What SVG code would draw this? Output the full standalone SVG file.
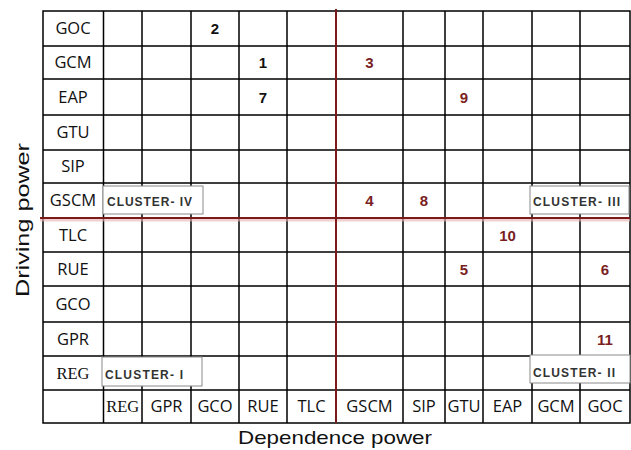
<svg xmlns="http://www.w3.org/2000/svg" width="631" height="450" viewBox="0 0 631 450">
<style>
.g{stroke:#000;stroke-width:1.5;fill:none}
.red{stroke:#7a1a1a;stroke-width:2;fill:none}
.glow{stroke:#e8b0b0;stroke-width:4;fill:none}
.lbl{font-family:"Open Sans","Liberation Sans",sans-serif;font-size:16.5px;fill:#111;text-anchor:middle}
.ser{font-family:"Liberation Serif",serif;font-size:16.5px;fill:#111;text-anchor:middle}
.nb{font-family:"Liberation Sans",Arial,sans-serif;font-size:15px;font-weight:bold;text-anchor:middle;fill:#111}
.nr{font-family:"Liberation Sans",Arial,sans-serif;font-size:15px;font-weight:bold;text-anchor:middle;fill:#7a1f1f}
.cb{fill:#fff;stroke:#8a8a8a;stroke-width:1}
.ct{font-family:"Liberation Sans",Arial,sans-serif;font-size:12px;font-weight:bold;fill:#333}
.ax{font-family:"Liberation Sans",Arial,sans-serif;font-size:19px;fill:#111}
</style>
<rect width="631" height="450" fill="#fff"/>
<g id="grid">
<path class="g" d="M43,11H630V423H43Z"/>
<path class="g" d="M103.5,11V423M142,11V423M191,11V423M239,11V423M287,11V423M403,11V423M445,11V423M483,11V423M532,11V423M580,11V423"/>
<path class="g" d="M43,46H630M43,79H630M43,115H630M43,150H630M43,183H630M43,252H630M43,286H630M43,322H630M43,356H630M43,390H630"/>
</g>
<g id="connectors">
<path class="glow" d="M40,219.5H630" opacity="0.6"/>
<path class="red" d="M40,218H630"/>
<path class="red" d="M336,9V423"/>
</g>
<g id="row-labels">
<text class="lbl" x="73" y="34">GOC</text>
<text class="lbl" x="73" y="68">GCM</text>
<text class="lbl" x="73" y="102.5">EAP</text>
<text class="lbl" x="73" y="138">GTU</text>
<text class="lbl" x="73" y="172">SIP</text>
<text class="lbl" x="73" y="206">GSCM</text>
<text class="lbl" x="73" y="240.5">TLC</text>
<text class="lbl" x="73" y="274.5">RUE</text>
<text class="lbl" x="73" y="309.5">GCO</text>
<text class="lbl" x="73" y="344.5">GPR</text>
<text class="ser" x="73" y="378.5">REG</text>
</g>
<g id="col-labels">
<text class="ser" x="122.75" y="412">REG</text>
<text class="lbl" x="166.5" y="412">GPR</text>
<text class="lbl" x="215" y="412">GCO</text>
<text class="lbl" x="263" y="412">RUE</text>
<text class="lbl" x="311.5" y="412">TLC</text>
<text class="lbl" x="369.5" y="412">GSCM</text>
<text class="lbl" x="424" y="412">SIP</text>
<text class="lbl" x="464" y="412">GTU</text>
<text class="lbl" x="507.5" y="412">EAP</text>
<text class="lbl" x="556" y="412">GCM</text>
<text class="lbl" x="605" y="412">GOC</text>
</g>
<g id="numbers">
<text class="nb" x="215" y="34">2</text>
<text class="nb" x="263" y="68">1</text>
<text class="nb" x="263" y="102.5">7</text>
<text class="nr" x="369.5" y="68">3</text>
<text class="nr" x="464" y="102.5">9</text>
<text class="nr" x="369.5" y="206">4</text>
<text class="nr" x="424" y="206">8</text>
<text class="nr" x="507.5" y="240.5">10</text>
<text class="nr" x="464" y="274.5">5</text>
<text class="nr" x="605" y="274.5">6</text>
<text class="nr" x="605" y="344.5">11</text>
</g>
<g id="cluster-4">
<rect class="cb" x="103" y="186" width="100" height="28"/>
<text class="ct" x="107" y="205.5" textLength="85" lengthAdjust="spacing">CLUSTER- IV</text>
</g>
<g id="cluster-3">
<rect class="cb" x="530" y="186" width="99" height="28"/>
<text class="ct" x="533" y="205.5" textLength="87" lengthAdjust="spacing">CLUSTER- III</text>
</g>
<g id="cluster-1">
<rect class="cb" x="102" y="357" width="100" height="29"/>
<text class="ct" x="105" y="378.5" textLength="78" lengthAdjust="spacing">CLUSTER- I</text>
</g>
<g id="cluster-2">
<rect class="cb" x="530" y="355" width="100" height="28"/>
<text class="ct" x="533" y="376.5" textLength="82" lengthAdjust="spacing">CLUSTER- II</text>
</g>
<g id="axes">
<text class="ax" x="335" y="444" text-anchor="middle" textLength="194" lengthAdjust="spacingAndGlyphs">Dependence power</text>
<text class="ax" transform="translate(29,220) rotate(-90)" text-anchor="middle" textLength="154" lengthAdjust="spacingAndGlyphs">Driving power</text>
</g>
</svg>
